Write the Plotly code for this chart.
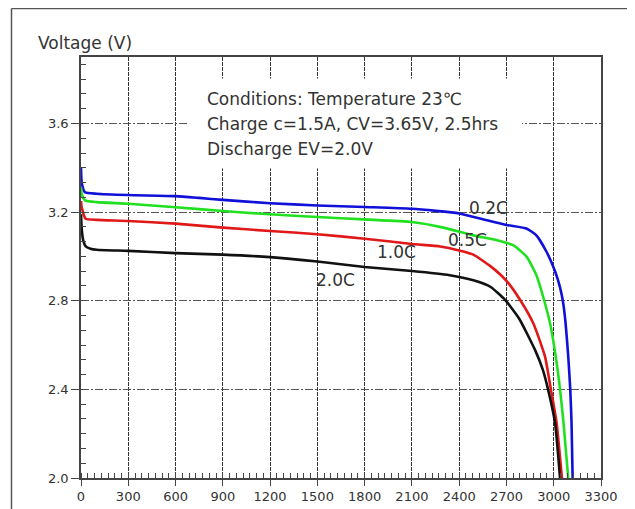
import plotly.graph_objects as go

# Capacity (mAh) and voltage (V) for each discharge rate
cap_02c = [0, 5, 25, 100, 300, 600, 750, 900, 1200, 1500, 1800, 2100, 2400, 2550, 2700, 2830, 2890, 2955, 3010, 3040, 3060, 3075, 3092, 3105, 3113, 3120]
volt_02c = [3.40, 3.33, 3.29, 3.283, 3.277, 3.272, 3.264, 3.255, 3.240, 3.230, 3.223, 3.215, 3.194, 3.168, 3.142, 3.125, 3.095, 3.02, 2.93, 2.86, 2.79, 2.70, 2.55, 2.40, 2.25, 2.00]

cap_05c = [0, 5, 25, 100, 300, 600, 900, 1200, 1500, 1800, 2100, 2300, 2490, 2640, 2745, 2830, 2890, 2940, 2977, 3013, 3040, 3062, 3092]
volt_05c = [3.31, 3.28, 3.253, 3.245, 3.238, 3.222, 3.205, 3.19, 3.178, 3.167, 3.155, 3.13, 3.095, 3.073, 3.05, 2.997, 2.915, 2.80, 2.697, 2.547, 2.40, 2.25, 2.00]

cap_10c = [0, 5, 30, 100, 300, 600, 900, 1200, 1500, 1800, 2100, 2280, 2400, 2490, 2600, 2700, 2790, 2871, 2945, 2982, 3018, 3052]
volt_10c = [3.25, 3.22, 3.17, 3.165, 3.16, 3.148, 3.13, 3.115, 3.10, 3.08, 3.056, 3.045, 3.027, 3.008, 2.955, 2.89, 2.80, 2.697, 2.547, 2.40, 2.25, 2.00]

cap_20c = [0, 5, 15, 30, 60, 100, 300, 600, 900, 1200, 1500, 1800, 2100, 2340, 2490, 2600, 2690, 2780, 2882, 2930, 2964, 3008, 3040]
volt_20c = [3.19, 3.12, 3.07, 3.045, 3.035, 3.03, 3.025, 3.015, 3.008, 2.997, 2.977, 2.952, 2.934, 2.915, 2.892, 2.862, 2.805, 2.72, 2.577, 2.49, 2.40, 2.25, 2.00]

series_names = ["0.2C", "0.5C", "1.0C", "2.0C"]
series_colors = ["#1010d8", "#20e020", "#e01818", "#111111"]
label_x = [2583, 2450, 2005, 1618]
label_y = [3.217, 3.073, 3.019, 2.892]

x_ticks = list(range(0, 3301, 300))
y_ticks = [2.0, 2.4, 2.8, 3.2, 3.6]

conditions = ["Conditions: Temperature 23\u2103",
              "Charge c=1.5A, CV=3.65V, 2.5hrs",
              "Discharge EV=2.0V"]

FONT = "DejaVu Sans, Verdana, sans-serif"
TXT = "#333333"

def px_x(p):
    return (p - 81) / 520

def px_y(p):
    return (478 - p) / 421

fig = go.Figure()
caps = [cap_02c, cap_05c, cap_10c, cap_20c]
volts = [volt_02c, volt_05c, volt_10c, volt_20c]
for c, v, n, col in zip(caps, volts, series_names, series_colors):
    fig.add_trace(go.Scatter(x=c, y=v, mode="lines", name=n,
                             line=dict(color=col, width=2.6, shape="spline", smoothing=0.5)))

for n, lx, ly in zip(series_names, label_x, label_y):
    fig.add_annotation(x=lx, y=ly, text=n, showarrow=False,
                       font=dict(size=17, color=TXT, family=FONT))

# white box behind conditions text (hides gridlines)
fig.add_shape(type="rect", xref="x", yref="y", x0=679, x1=2799, y0=3.397, y1=3.803,
              fillcolor="white", line=dict(width=0), layer="between")
line_y_px = [99, 124, 149]
for t, py in zip(conditions, line_y_px):
    fig.add_annotation(xref="paper", yref="paper", x=px_x(205), y=px_y(py),
                       xanchor="left", yanchor="middle", align="left", showarrow=False,
                       text=t, font=dict(size=17, color=TXT, family=FONT))

# y axis title
fig.add_annotation(xref="paper", yref="paper", x=px_x(36), y=px_y(43),
                   xanchor="left", yanchor="middle", showarrow=False, text="Voltage (V)",
                   font=dict(size=17, color=TXT, family=FONT))

# outer frame: left and top edges
fig.add_shape(type="line", xref="paper", yref="paper",
              x0=px_x(11.5), x1=px_x(11.5), y0=px_y(512), y1=px_y(8.5),
              line=dict(color="#555555", width=1.5))
fig.add_shape(type="line", xref="paper", yref="paper",
              x0=px_x(11.5), x1=px_x(642), y0=px_y(8.5), y1=px_y(8.5),
              line=dict(color="#555555", width=1.5))

fig.update_layout(
    width=635, height=509,
    margin=dict(l=73, r=42, t=49, b=39),
    paper_bgcolor="white", plot_bgcolor="white",
    showlegend=False,
    font=dict(family=FONT, color=TXT),
)
fig.update_xaxes(range=[0, 3300], tickvals=x_ticks, ticktext=[str(t) for t in x_ticks],
                 showline=True, linecolor="#444444", linewidth=1.5, mirror=True,
                 ticks="outside", ticklen=6, tickcolor="#444444",
                 showgrid=True, gridcolor="#333333", griddash="4px,1px", gridwidth=1,
                 zeroline=False, tickfont=dict(size=13, color=TXT, family=FONT),
                 minor=dict(ticks="inside", dtick=300 / 7, tick0=0, ticklen=5, tickcolor="#444444", showgrid=False))
fig.update_yaxes(range=[2.0, 3.9], tickvals=y_ticks, ticktext=[f"{t:.1f}" for t in y_ticks],
                 showline=True, linecolor="#444444", linewidth=1.5, mirror=True,
                 ticks="outside", ticklen=8, tickcolor="#444444",
                 showgrid=True, gridcolor="#555555", griddash="8px,2px,2px,2px", gridwidth=1,
                 zeroline=False, tickfont=dict(size=13, color=TXT, family=FONT),
                 minor=dict(ticks="inside", dtick=0.4 / 6, tick0=2.0, ticklen=5, tickcolor="#444444", showgrid=False))

fig.write_html("out.html")
